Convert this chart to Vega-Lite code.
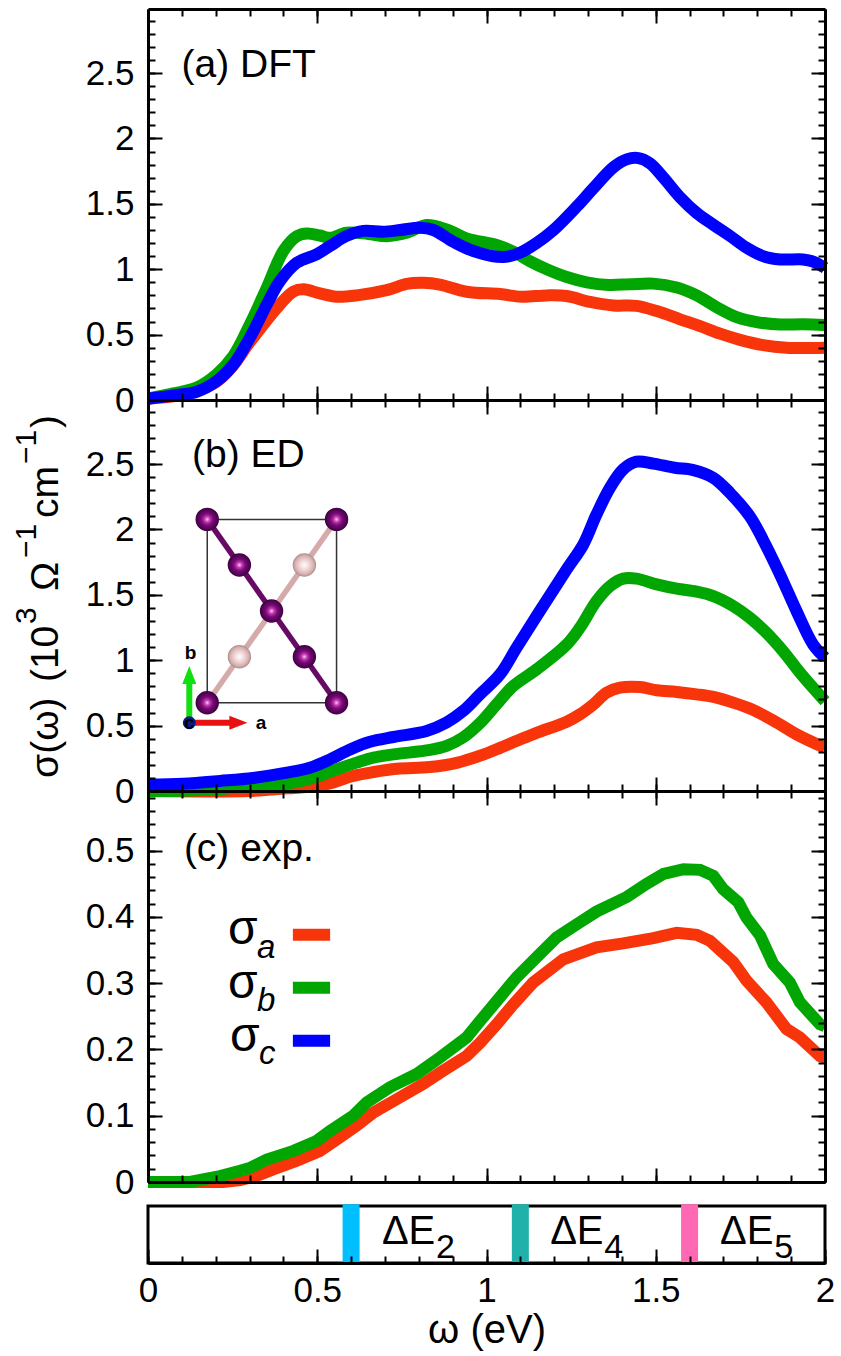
{
"$schema":"https://vega.github.io/schema/vega-lite/v6.json",
"padding":{"left":11,"top":8,"right":5,"bottom":2},
"bounds":"flush",
"spacing":0,
"resolve":{"scale":{"color":"independent"}},
"config":{"view":{"stroke":null},"font":"Liberation Sans","axis":{"grid":false,"domainColor":"black","domainWidth":3,"tickColor":"black","tickWidth":2,"labelFont":"Liberation Sans","labelFontSize":35,"labelColor":"black","labelOverlap":false,"labelFlush":false,"labelBound":false,"titleFont":"Liberation Sans","titleColor":"black","titleFontWeight":"normal"},"text":{"font":"Liberation Sans","color":"black"}},
"datasets":{
"axisrow":[{"w":0,"v":0}],
"dft":[
{"s":"a","w":0,"v":0.01},{"s":"a","w":0.1,"v":0.04},{"s":"a","w":0.2,"v":0.135},{"s":"a","w":0.25,"v":0.26},{"s":"a","w":0.3,"v":0.44},{"s":"a","w":0.386,"v":0.72},{"s":"a","w":0.43,"v":0.83},{"s":"a","w":0.46,"v":0.846},{"s":"a","w":0.508,"v":0.815},{"s":"a","w":0.557,"v":0.79},{"s":"a","w":0.617,"v":0.8},{"s":"a","w":0.705,"v":0.84},{"s":"a","w":0.764,"v":0.888},{"s":"a","w":0.813,"v":0.896},{"s":"a","w":0.862,"v":0.883},{"s":"a","w":0.941,"v":0.828},{"s":"a","w":1.04,"v":0.81},{"s":"a","w":1.104,"v":0.79},{"s":"a","w":1.178,"v":0.8},{"s":"a","w":1.237,"v":0.795},{"s":"a","w":1.306,"v":0.75},{"s":"a","w":1.375,"v":0.723},{"s":"a","w":1.443,"v":0.72},{"s":"a","w":1.503,"v":0.68},{"s":"a","w":1.572,"v":0.617},{"s":"a","w":1.631,"v":0.565},{"s":"a","w":1.69,"v":0.507},{"s":"a","w":1.749,"v":0.46},{"s":"a","w":1.817,"v":0.42},{"s":"a","w":1.886,"v":0.4},{"s":"a","w":2,"v":0.4},
{"s":"b","w":0,"v":0.01},{"s":"b","w":0.075,"v":0.05},{"s":"b","w":0.144,"v":0.095},{"s":"b","w":0.203,"v":0.197},{"s":"b","w":0.252,"v":0.337},{"s":"b","w":0.301,"v":0.578},{"s":"b","w":0.351,"v":0.858},{"s":"b","w":0.4,"v":1.14},{"s":"b","w":0.44,"v":1.253},{"s":"b","w":0.47,"v":1.274},{"s":"b","w":0.508,"v":1.258},{"s":"b","w":0.538,"v":1.24},{"s":"b","w":0.587,"v":1.279},{"s":"b","w":0.65,"v":1.27},{"s":"b","w":0.705,"v":1.253},{"s":"b","w":0.764,"v":1.279},{"s":"b","w":0.823,"v":1.338},{"s":"b","w":0.882,"v":1.305},{"s":"b","w":0.941,"v":1.236},{"s":"b","w":1.03,"v":1.185},{"s":"b","w":1.079,"v":1.135},{"s":"b","w":1.129,"v":1.06},{"s":"b","w":1.178,"v":1},{"s":"b","w":1.237,"v":0.94},{"s":"b","w":1.296,"v":0.9},{"s":"b","w":1.36,"v":0.88},{"s":"b","w":1.424,"v":0.885},{"s":"b","w":1.493,"v":0.89},{"s":"b","w":1.562,"v":0.86},{"s":"b","w":1.621,"v":0.8},{"s":"b","w":1.68,"v":0.71},{"s":"b","w":1.739,"v":0.634},{"s":"b","w":1.798,"v":0.596},{"s":"b","w":1.867,"v":0.577},{"s":"b","w":1.935,"v":0.58},{"s":"b","w":2,"v":0.573},
{"s":"c","w":0,"v":0.01},{"s":"c","w":0.075,"v":0.035},{"s":"c","w":0.144,"v":0.063},{"s":"c","w":0.203,"v":0.145},{"s":"c","w":0.252,"v":0.27},{"s":"c","w":0.301,"v":0.477},{"s":"c","w":0.351,"v":0.73},{"s":"c","w":0.39,"v":0.91},{"s":"c","w":0.44,"v":1.05},{"s":"c","w":0.498,"v":1.114},{"s":"c","w":0.538,"v":1.178},{"s":"c","w":0.587,"v":1.255},{"s":"c","w":0.636,"v":1.293},{"s":"c","w":0.695,"v":1.287},{"s":"c","w":0.745,"v":1.3},{"s":"c","w":0.804,"v":1.318},{"s":"c","w":0.843,"v":1.3},{"s":"c","w":0.902,"v":1.21},{"s":"c","w":0.961,"v":1.14},{"s":"c","w":1.05,"v":1.093},{"s":"c","w":1.099,"v":1.126},{"s":"c","w":1.148,"v":1.2},{"s":"c","w":1.198,"v":1.3},{"s":"c","w":1.267,"v":1.48},{"s":"c","w":1.316,"v":1.62},{"s":"c","w":1.375,"v":1.78},{"s":"c","w":1.414,"v":1.84},{"s":"c","w":1.449,"v":1.85},{"s":"c","w":1.483,"v":1.81},{"s":"c","w":1.523,"v":1.7},{"s":"c","w":1.572,"v":1.55},{"s":"c","w":1.621,"v":1.43},{"s":"c","w":1.67,"v":1.34},{"s":"c","w":1.719,"v":1.255},{"s":"c","w":1.768,"v":1.165},{"s":"c","w":1.817,"v":1.1},{"s":"c","w":1.867,"v":1.075},{"s":"c","w":1.935,"v":1.075},{"s":"c","w":1.965,"v":1.058},{"s":"c","w":2,"v":1.01}],
"ed":[
{"s":"a","w":0,"v":0},{"s":"a","w":0.3,"v":0},{"s":"a","w":0.41,"v":0.02},{"s":"a","w":0.518,"v":0.046},{"s":"a","w":0.606,"v":0.115},{"s":"a","w":0.666,"v":0.145},{"s":"a","w":0.735,"v":0.17},{"s":"a","w":0.833,"v":0.183},{"s":"a","w":0.912,"v":0.215},{"s":"a","w":0.981,"v":0.27},{"s":"a","w":1.04,"v":0.33},{"s":"a","w":1.099,"v":0.394},{"s":"a","w":1.148,"v":0.445},{"s":"a","w":1.237,"v":0.53},{"s":"a","w":1.276,"v":0.586},{"s":"a","w":1.316,"v":0.663},{"s":"a","w":1.355,"v":0.752},{"s":"a","w":1.394,"v":0.79},{"s":"a","w":1.453,"v":0.795},{"s":"a","w":1.503,"v":0.77},{"s":"a","w":1.562,"v":0.757},{"s":"a","w":1.621,"v":0.739},{"s":"a","w":1.67,"v":0.719},{"s":"a","w":1.729,"v":0.676},{"s":"a","w":1.778,"v":0.63},{"s":"a","w":1.847,"v":0.54},{"s":"a","w":1.916,"v":0.433},{"s":"a","w":2,"v":0.33},
{"s":"b","w":0,"v":0},{"s":"b","w":0.104,"v":0.002},{"s":"b","w":0.213,"v":0.015},{"s":"b","w":0.311,"v":0.036},{"s":"b","w":0.41,"v":0.056},{"s":"b","w":0.49,"v":0.102},{"s":"b","w":0.557,"v":0.166},{"s":"b","w":0.616,"v":0.217},{"s":"b","w":0.666,"v":0.255},{"s":"b","w":0.725,"v":0.28},{"s":"b","w":0.833,"v":0.314},{"s":"b","w":0.882,"v":0.345},{"s":"b","w":0.931,"v":0.41},{"s":"b","w":0.981,"v":0.52},{"s":"b","w":1.03,"v":0.663},{"s":"b","w":1.079,"v":0.803},{"s":"b","w":1.148,"v":0.93},{"s":"b","w":1.237,"v":1.12},{"s":"b","w":1.276,"v":1.249},{"s":"b","w":1.325,"v":1.453},{"s":"b","w":1.365,"v":1.567},{"s":"b","w":1.404,"v":1.624},{"s":"b","w":1.443,"v":1.624},{"s":"b","w":1.503,"v":1.58},{"s":"b","w":1.562,"v":1.547},{"s":"b","w":1.621,"v":1.524},{"s":"b","w":1.67,"v":1.49},{"s":"b","w":1.729,"v":1.414},{"s":"b","w":1.778,"v":1.325},{"s":"b","w":1.827,"v":1.21},{"s":"b","w":1.876,"v":1.07},{"s":"b","w":1.926,"v":0.905},{"s":"b","w":2,"v":0.687},
{"s":"c","w":0,"v":0.05},{"s":"c","w":0.104,"v":0.056},{"s":"c","w":0.213,"v":0.077},{"s":"c","w":0.311,"v":0.1},{"s":"c","w":0.41,"v":0.14},{"s":"c","w":0.478,"v":0.178},{"s":"c","w":0.538,"v":0.242},{"s":"c","w":0.597,"v":0.318},{"s":"c","w":0.656,"v":0.377},{"s":"c","w":0.725,"v":0.413},{"s":"c","w":0.823,"v":0.459},{"s":"c","w":0.882,"v":0.523},{"s":"c","w":0.931,"v":0.612},{"s":"c","w":0.981,"v":0.74},{"s":"c","w":1.04,"v":0.892},{"s":"c","w":1.089,"v":1.096},{"s":"c","w":1.148,"v":1.338},{"s":"c","w":1.237,"v":1.695},{"s":"c","w":1.286,"v":1.885},{"s":"c","w":1.325,"v":2.115},{"s":"c","w":1.365,"v":2.32},{"s":"c","w":1.404,"v":2.46},{"s":"c","w":1.443,"v":2.518},{"s":"c","w":1.493,"v":2.503},{"s":"c","w":1.556,"v":2.472},{"s":"c","w":1.611,"v":2.454},{"s":"c","w":1.67,"v":2.395},{"s":"c","w":1.719,"v":2.28},{"s":"c","w":1.778,"v":2.1},{"s":"c","w":1.817,"v":1.92},{"s":"c","w":1.867,"v":1.656},{"s":"c","w":1.916,"v":1.376},{"s":"c","w":1.965,"v":1.12},{"s":"c","w":2,"v":1.02}],
"expt":[
{"s":"a","w":0,"v":0},{"s":"a","w":0.222,"v":0},{"s":"a","w":0.272,"v":0.003},{"s":"a","w":0.32,"v":0.009},{"s":"a","w":0.37,"v":0.019},{"s":"a","w":0.44,"v":0.032},{"s":"a","w":0.508,"v":0.047},{"s":"a","w":0.566,"v":0.067},{"s":"a","w":0.616,"v":0.085},{"s":"a","w":0.666,"v":0.105},{"s":"a","w":0.725,"v":0.122},{"s":"a","w":0.813,"v":0.148},{"s":"a","w":0.863,"v":0.165},{"s":"a","w":0.941,"v":0.19},{"s":"a","w":0.981,"v":0.21},{"s":"a","w":1.03,"v":0.238},{"s":"a","w":1.079,"v":0.268},{"s":"a","w":1.138,"v":0.301},{"s":"a","w":1.227,"v":0.336},{"s":"a","w":1.325,"v":0.354},{"s":"a","w":1.404,"v":0.36},{"s":"a","w":1.493,"v":0.368},{"s":"a","w":1.562,"v":0.376},{"s":"a","w":1.621,"v":0.373},{"s":"a","w":1.66,"v":0.364},{"s":"a","w":1.729,"v":0.332},{"s":"a","w":1.768,"v":0.304},{"s":"a","w":1.827,"v":0.271},{"s":"a","w":1.886,"v":0.231},{"s":"a","w":1.926,"v":0.218},{"s":"a","w":1.985,"v":0.19},{"s":"a","w":2,"v":0.188},
{"s":"b","w":0,"v":0},{"s":"b","w":0.124,"v":0},{"s":"b","w":0.213,"v":0.009},{"s":"b","w":0.272,"v":0.017},{"s":"b","w":0.3,"v":0.021},{"s":"b","w":0.351,"v":0.034},{"s":"b","w":0.43,"v":0.047},{"s":"b","w":0.498,"v":0.062},{"s":"b","w":0.538,"v":0.077},{"s":"b","w":0.606,"v":0.1},{"s":"b","w":0.646,"v":0.12},{"s":"b","w":0.715,"v":0.143},{"s":"b","w":0.794,"v":0.163},{"s":"b","w":0.863,"v":0.188},{"s":"b","w":0.941,"v":0.218},{"s":"b","w":0.981,"v":0.243},{"s":"b","w":1.03,"v":0.273},{"s":"b","w":1.089,"v":0.309},{"s":"b","w":1.148,"v":0.339},{"s":"b","w":1.207,"v":0.369},{"s":"b","w":1.276,"v":0.392},{"s":"b","w":1.325,"v":0.408},{"s":"b","w":1.414,"v":0.43},{"s":"b","w":1.473,"v":0.45},{"s":"b","w":1.523,"v":0.465},{"s":"b","w":1.582,"v":0.472},{"s":"b","w":1.631,"v":0.471},{"s":"b","w":1.67,"v":0.462},{"s":"b","w":1.699,"v":0.442},{"s":"b","w":1.744,"v":0.422},{"s":"b","w":1.768,"v":0.399},{"s":"b","w":1.808,"v":0.372},{"s":"b","w":1.847,"v":0.329},{"s":"b","w":1.896,"v":0.301},{"s":"b","w":1.926,"v":0.271},{"s":"b","w":1.985,"v":0.238},{"s":"b","w":2,"v":0.235}]
},
"vconcat":[
{"width":677,"height":391,"resolve":{"axis":{"x":"independent","y":"independent"}},"layer":[
{"data":{"name":"axisrow"},"mark":{"type":"point","opacity":0},"encoding":{"x":{"field":"w","type":"quantitative","scale":{"domain":[0,2],"nice":false,"zero":false},"axis":{"orient":"bottom","values":[0,0.5,1,1.5,2],"tickSize":-14,"labels":false,"title":null,"zindex":1}},"y":{"field":"v","type":"quantitative","scale":{"domain":[0,2.99],"nice":false,"zero":false},"axis":{"orient":"left","values":[0,0.5,1,1.5,2,2.5],"tickSize":-14,"labelPadding":28,"format":"~g","title":null,"zindex":1}}}},
{"data":{"name":"axisrow"},"mark":{"type":"point","opacity":0},"encoding":{"x":{"field":"w","type":"quantitative","axis":{"orient":"bottom","values":[0,0.1,0.2,0.3,0.4,0.5,0.6,0.7,0.8,0.9,1,1.1,1.2,1.3,1.4,1.5,1.6,1.7,1.8,1.9,2],"tickSize":-7,"labels":false,"domain":false,"title":null,"zindex":1}},"y":{"field":"v","type":"quantitative","axis":{"orient":"left","values":[0,0.1,0.2,0.3,0.4,0.5,0.6,0.7,0.8,0.9,1,1.1,1.2,1.3,1.4,1.5,1.6,1.7,1.8,1.9,2,2.1,2.2,2.3,2.4,2.5,2.6,2.7,2.8,2.9],"tickSize":-7,"labels":false,"domain":false,"title":null,"zindex":1}}}},
{"data":{"name":"axisrow"},"mark":{"type":"point","opacity":0},"encoding":{"x":{"field":"w","type":"quantitative","axis":{"orient":"top","values":[0,0.5,1,1.5,2],"tickSize":-14,"labels":false,"title":null,"zindex":1}},"y":{"field":"v","type":"quantitative","axis":{"orient":"right","values":[0,0.5,1,1.5,2,2.5],"tickSize":-14,"labels":false,"title":null,"zindex":1}}}},
{"data":{"name":"axisrow"},"mark":{"type":"point","opacity":0},"encoding":{"x":{"field":"w","type":"quantitative","axis":{"orient":"top","values":[0,0.1,0.2,0.3,0.4,0.5,0.6,0.7,0.8,0.9,1,1.1,1.2,1.3,1.4,1.5,1.6,1.7,1.8,1.9,2],"tickSize":-7,"labels":false,"domain":false,"title":null,"zindex":1}},"y":{"field":"v","type":"quantitative","axis":{"orient":"right","values":[0,0.1,0.2,0.3,0.4,0.5,0.6,0.7,0.8,0.9,1,1.1,1.2,1.3,1.4,1.5,1.6,1.7,1.8,1.9,2,2.1,2.2,2.3,2.4,2.5,2.6,2.7,2.8,2.9],"tickSize":-7,"labels":false,"domain":false,"title":null,"zindex":1}}}},
{"data":{"name":"dft"},"mark":{"type":"line","strokeWidth":12,"interpolate":"catmull-rom","clip":false},"encoding":{"x":{"field":"w","type":"quantitative","axis":null},"y":{"field":"v","type":"quantitative","axis":null},"color":{"field":"s","type":"nominal","scale":{"domain":["a","b","c"],"range":["#f8340a","#02a602","#0000ff"]},"legend":null}}},
{"data":{"values":[{"w":0.099,"v":2.47,"t":"(a) DFT"}]},"mark":{"type":"text","fontSize":39,"align":"left","baseline":"alphabetic"},"encoding":{"x":{"field":"w","type":"quantitative","axis":null},"y":{"field":"v","type":"quantitative","axis":null},"text":{"field":"t"}}}
]},
{"width":677,"height":391,"resolve":{"axis":{"x":"independent","y":"independent"}},"layer":[
{"data":{"name":"axisrow"},"mark":{"type":"point","opacity":0},"encoding":{"x":{"field":"w","type":"quantitative","scale":{"domain":[0,2],"nice":false,"zero":false},"axis":{"orient":"bottom","values":[0,0.5,1,1.5,2],"tickSize":-14,"labels":false,"title":null,"zindex":1}},"y":{"field":"v","type":"quantitative","scale":{"domain":[0,2.99],"nice":false,"zero":false},"axis":{"orient":"left","values":[0,0.5,1,1.5,2,2.5],"tickSize":-14,"labelPadding":28,"format":"~g","title":null,"zindex":1}}}},
{"data":{"name":"axisrow"},"mark":{"type":"point","opacity":0},"encoding":{"x":{"field":"w","type":"quantitative","axis":{"orient":"bottom","values":[0,0.1,0.2,0.3,0.4,0.5,0.6,0.7,0.8,0.9,1,1.1,1.2,1.3,1.4,1.5,1.6,1.7,1.8,1.9,2],"tickSize":-7,"labels":false,"domain":false,"title":null,"zindex":1}},"y":{"field":"v","type":"quantitative","axis":{"orient":"left","values":[0,0.1,0.2,0.3,0.4,0.5,0.6,0.7,0.8,0.9,1,1.1,1.2,1.3,1.4,1.5,1.6,1.7,1.8,1.9,2,2.1,2.2,2.3,2.4,2.5,2.6,2.7,2.8,2.9],"tickSize":-7,"labels":false,"domain":false,"title":null,"zindex":1}}}},
{"data":{"name":"axisrow"},"mark":{"type":"point","opacity":0},"encoding":{"x":{"field":"w","type":"quantitative","axis":{"orient":"top","values":[0,0.5,1,1.5,2],"tickSize":-14,"labels":false,"title":null,"zindex":1}},"y":{"field":"v","type":"quantitative","axis":{"orient":"right","values":[0,0.5,1,1.5,2,2.5],"tickSize":-14,"labels":false,"title":null,"zindex":1}}}},
{"data":{"name":"axisrow"},"mark":{"type":"point","opacity":0},"encoding":{"x":{"field":"w","type":"quantitative","axis":{"orient":"top","values":[0,0.1,0.2,0.3,0.4,0.5,0.6,0.7,0.8,0.9,1,1.1,1.2,1.3,1.4,1.5,1.6,1.7,1.8,1.9,2],"tickSize":-7,"labels":false,"domain":false,"title":null,"zindex":1}},"y":{"field":"v","type":"quantitative","axis":{"orient":"right","values":[0,0.1,0.2,0.3,0.4,0.5,0.6,0.7,0.8,0.9,1,1.1,1.2,1.3,1.4,1.5,1.6,1.7,1.8,1.9,2,2.1,2.2,2.3,2.4,2.5,2.6,2.7,2.8,2.9],"tickSize":-7,"labels":false,"domain":false,"title":null,"zindex":1}}}},
{"data":{"name":"ed"},"mark":{"type":"line","strokeWidth":12,"interpolate":"catmull-rom","clip":false},"encoding":{"x":{"field":"w","type":"quantitative","axis":null},"y":{"field":"v","type":"quantitative","axis":null},"color":{"field":"s","type":"nominal","scale":{"domain":["a","b","c"],"range":["#f8340a","#02a602","#0000ff"]},"legend":null}}},
{"data":{"values":[{"w":0.13,"v":2.477,"t":"(b) ED"}]},"mark":{"type":"text","fontSize":39,"align":"left","baseline":"alphabetic"},"encoding":{"x":{"field":"w","type":"quantitative","axis":null},"y":{"field":"v","type":"quantitative","axis":null},"text":{"field":"t"}}},
{"data":{"values":[{"w":0.175,"v":2.077,"w2":0.557,"v2":2.077},{"w":0.175,"v":0.675,"w2":0.557,"v2":0.675},{"w":0.175,"v":0.675,"w2":0.175,"v2":2.077},{"w":0.557,"v":0.675,"w2":0.557,"v2":2.077}]},"mark":{"type":"rule","color":"#333333","strokeWidth":1.5},"encoding":{"x":{"field":"w","type":"quantitative","axis":null},"y":{"field":"v","type":"quantitative","axis":null},"x2":{"field":"w2"},"y2":{"field":"v2"}}},
{"data":{"values":[{"w":0.557,"v":2.077,"w2":0.175,"v2":0.675}]},"mark":{"type":"rule","color":"#d4aaaa","strokeWidth":5.5},"encoding":{"x":{"field":"w","type":"quantitative","axis":null},"y":{"field":"v","type":"quantitative","axis":null},"x2":{"field":"w2"},"y2":{"field":"v2"}}},
{"data":{"values":[{"w":0.175,"v":2.077,"w2":0.557,"v2":0.675}]},"mark":{"type":"rule","color":"#660a66","strokeWidth":5.5},"encoding":{"x":{"field":"w","type":"quantitative","axis":null},"y":{"field":"v","type":"quantitative","axis":null},"x2":{"field":"w2"},"y2":{"field":"v2"}}},
{"data":{"values":[{"w":0.175,"v":2.077},{"w":0.557,"v":2.077},{"w":0.27,"v":1.728},{"w":0.365,"v":1.376},{"w":0.462,"v":1.027},{"w":0.175,"v":0.675},{"w":0.557,"v":0.675}]},"mark":{"type":"point","shape":"circle","filled":true,"size":548,"opacity":1,"fill":{"gradient":"radial","x1":0.5,"y1":0.5,"r1":0,"x2":0.5,"y2":0.5,"r2":0.5,"stops":[{"offset":0,"color":"#ffd8ff"},{"offset":0.22,"color":"#c83cb4"},{"offset":0.5,"color":"#7a0a78"},{"offset":1,"color":"#3c0040"}]}},"encoding":{"x":{"field":"w","type":"quantitative","axis":null},"y":{"field":"v","type":"quantitative","axis":null}}},
{"data":{"values":[{"w":0.462,"v":1.728},{"w":0.27,"v":1.027}]},"mark":{"type":"point","shape":"circle","filled":true,"size":548,"opacity":1,"fill":{"gradient":"radial","x1":0.5,"y1":0.5,"r1":0,"x2":0.5,"y2":0.5,"r2":0.5,"stops":[{"offset":0,"color":"#ffffff"},{"offset":0.4,"color":"#f2d8d8"},{"offset":0.8,"color":"#d8b0b0"},{"offset":1,"color":"#a88a8a"}]}},"encoding":{"x":{"field":"w","type":"quantitative","axis":null},"y":{"field":"v","type":"quantitative","axis":null}}},
{"data":{"values":[{"w":0.122,"v":0.522,"w2":0.122,"v2":0.88}]},"mark":{"type":"rule","color":"#10e010","strokeWidth":6},"encoding":{"x":{"field":"w","type":"quantitative","axis":null},"y":{"field":"v","type":"quantitative","axis":null},"x2":{"field":"w2"},"y2":{"field":"v2"}}},
{"data":{"values":[{"w":0.122,"v":0.887}]},"mark":{"type":"point","shape":"M0,-0.9L-0.7,0.9L0.7,0.9Z","filled":true,"size":400,"opacity":1,"color":"#10e010"},"encoding":{"x":{"field":"w","type":"quantitative","axis":null},"y":{"field":"v","type":"quantitative","axis":null}}},
{"data":{"values":[{"w":0.122,"v":0.522,"w2":0.267,"v2":0.522}]},"mark":{"type":"rule","color":"#e81010","strokeWidth":6},"encoding":{"x":{"field":"w","type":"quantitative","axis":null},"y":{"field":"v","type":"quantitative","axis":null},"x2":{"field":"w2"},"y2":{"field":"v2"}}},
{"data":{"values":[{"w":0.267,"v":0.522}]},"mark":{"type":"point","shape":"M0.9,0L-0.9,-0.7L-0.9,0.7Z","filled":true,"size":400,"opacity":1,"color":"#e81010"},"encoding":{"x":{"field":"w","type":"quantitative","axis":null},"y":{"field":"v","type":"quantitative","axis":null}}},
{"data":{"values":[{"w":0.122,"v":0.522}]},"mark":{"type":"point","shape":"circle","filled":true,"size":170,"opacity":1,"color":"#0a1a8c"},"encoding":{"x":{"field":"w","type":"quantitative","axis":null},"y":{"field":"v","type":"quantitative","axis":null}}},
{"data":{"values":[{"w":0.122,"v":0.522,"t":"c"},{"w":0.126,"v":1.053,"t":"b"},{"w":0.334,"v":0.522,"t":"a"}]},"mark":{"type":"text","fontSize":19,"fontWeight":"bold","font":"Liberation Sans","align":"center","baseline":"middle"},"encoding":{"x":{"field":"w","type":"quantitative","axis":null},"y":{"field":"v","type":"quantitative","axis":null},"text":{"field":"t"}}},
{"data":{"values":[{"w":-0.267,"v":0.1,"t":"σ(ω)"},{"w":-0.267,"v":0.833,"t":"(10"},{"w":-0.267,"v":1.529,"t":"Ω"},{"w":-0.267,"v":2.087,"t":"cm"},{"w":-0.267,"v":2.775,"t":")"}]},"mark":{"type":"text","fontSize":39,"angle":270,"align":"left","baseline":"alphabetic"},"encoding":{"x":{"field":"w","type":"quantitative","axis":null},"y":{"field":"v","type":"quantitative","axis":null},"text":{"field":"t"}}},
{"data":{"values":[{"w":-0.331,"v":1.277,"t":"3"},{"w":-0.331,"v":1.781,"t":"−1"},{"w":-0.331,"v":2.5,"t":"−1"}]},"mark":{"type":"text","fontSize":30,"angle":270,"align":"left","baseline":"alphabetic"},"encoding":{"x":{"field":"w","type":"quantitative","axis":null},"y":{"field":"v","type":"quantitative","axis":null},"text":{"field":"t"}}}
]},
{"width":677,"height":391,"resolve":{"axis":{"x":"independent","y":"independent"}},"layer":[
{"data":{"name":"axisrow"},"mark":{"type":"point","opacity":0},"encoding":{"x":{"field":"w","type":"quantitative","scale":{"domain":[0,2],"nice":false,"zero":false},"axis":{"orient":"bottom","values":[0,0.5,1,1.5,2],"tickSize":-14,"labels":false,"title":null,"zindex":1}},"y":{"field":"v","type":"quantitative","scale":{"domain":[0,0.59],"nice":false,"zero":false},"axis":{"orient":"left","values":[0,0.1,0.2,0.3,0.4,0.5],"tickSize":-14,"labelPadding":28,"format":"~g","title":null,"zindex":1}}}},
{"data":{"name":"axisrow"},"mark":{"type":"point","opacity":0},"encoding":{"x":{"field":"w","type":"quantitative","axis":{"orient":"bottom","values":[0,0.1,0.2,0.3,0.4,0.5,0.6,0.7,0.8,0.9,1,1.1,1.2,1.3,1.4,1.5,1.6,1.7,1.8,1.9,2],"tickSize":-7,"labels":false,"domain":false,"title":null,"zindex":1}},"y":{"field":"v","type":"quantitative","axis":{"orient":"left","values":[0,0.02,0.04,0.06,0.08,0.1,0.12,0.14,0.16,0.18,0.2,0.22,0.24,0.26,0.28,0.3,0.32,0.34,0.36,0.38,0.4,0.42,0.44,0.46,0.48,0.5,0.52,0.54,0.56,0.58],"tickSize":-7,"labels":false,"domain":false,"title":null,"zindex":1}}}},
{"data":{"name":"axisrow"},"mark":{"type":"point","opacity":0},"encoding":{"x":{"field":"w","type":"quantitative","axis":{"orient":"top","values":[0,0.5,1,1.5,2],"tickSize":-14,"labels":false,"title":null,"zindex":1}},"y":{"field":"v","type":"quantitative","axis":{"orient":"right","values":[0,0.1,0.2,0.3,0.4,0.5],"tickSize":-14,"labels":false,"title":null,"zindex":1}}}},
{"data":{"name":"axisrow"},"mark":{"type":"point","opacity":0},"encoding":{"x":{"field":"w","type":"quantitative","axis":{"orient":"top","values":[0,0.1,0.2,0.3,0.4,0.5,0.6,0.7,0.8,0.9,1,1.1,1.2,1.3,1.4,1.5,1.6,1.7,1.8,1.9,2],"tickSize":-7,"labels":false,"domain":false,"title":null,"zindex":1}},"y":{"field":"v","type":"quantitative","axis":{"orient":"right","values":[0,0.02,0.04,0.06,0.08,0.1,0.12,0.14,0.16,0.18,0.2,0.22,0.24,0.26,0.28,0.3,0.32,0.34,0.36,0.38,0.4,0.42,0.44,0.46,0.48,0.5,0.52,0.54,0.56,0.58],"tickSize":-7,"labels":false,"domain":false,"title":null,"zindex":1}}}},
{"data":{"name":"expt"},"mark":{"type":"line","strokeWidth":12,"interpolate":"linear","clip":false},"encoding":{"x":{"field":"w","type":"quantitative","axis":null},"y":{"field":"v","type":"quantitative","axis":null},"color":{"field":"s","type":"nominal","scale":{"domain":["a","b","c"],"range":["#f8340a","#02a602","#0000ff"]},"legend":null}}},
{"data":{"values":[{"w":0.106,"v":0.485,"t":"(c) exp."}]},"mark":{"type":"text","fontSize":39,"align":"left","baseline":"alphabetic"},"encoding":{"x":{"field":"w","type":"quantitative","axis":null},"y":{"field":"v","type":"quantitative","axis":null},"text":{"field":"t"}}},
{"data":{"values":[{"w":0.428,"w2":0.538,"v":0.373,"s":"a"},{"w":0.428,"w2":0.538,"v":0.293,"s":"b"},{"w":0.428,"w2":0.538,"v":0.213,"s":"c"}]},"mark":{"type":"rule","strokeWidth":12},"encoding":{"x":{"field":"w","type":"quantitative","axis":null},"x2":{"field":"w2"},"y":{"field":"v","type":"quantitative","axis":null},"color":{"field":"s","type":"nominal","scale":{"domain":["a","b","c"],"range":["#f8340a","#02a602","#0000ff"]},"legend":null}}},
{"data":{"values":[{"w":0.236,"v":0.3595,"t":"σ"},{"w":0.236,"v":0.278,"t":"σ"},{"w":0.242,"v":0.198,"t":"σ"}]},"mark":{"type":"text","fontSize":48,"align":"left","baseline":"alphabetic"},"encoding":{"x":{"field":"w","type":"quantitative","axis":null},"y":{"field":"v","type":"quantitative","axis":null},"text":{"field":"t"}}},
{"data":{"values":[{"w":0.322,"v":0.338,"t":"a"},{"w":0.322,"v":0.258,"t":"b"},{"w":0.328,"v":0.178,"t":"c"}]},"mark":{"type":"text","fontSize":33,"fontStyle":"italic","align":"left","baseline":"alphabetic"},"encoding":{"x":{"field":"w","type":"quantitative","axis":null},"y":{"field":"v","type":"quantitative","axis":null},"text":{"field":"t"}}}
]},
{"width":677,"height":81,"resolve":{"axis":{"x":"independent"}},"layer":[
{"data":{"name":"axisrow"},"mark":{"type":"point","opacity":0},"encoding":{"x":{"field":"w","type":"quantitative","scale":{"domain":[0,2],"nice":false,"zero":false},"axis":{"orient":"bottom","values":[0,0.5,1,1.5,2],"tickSize":-14,"labelPadding":24,"format":"~g","title":"ω (eV)","titleFontSize":40,"titlePadding":2,"zindex":1}},"y":{"field":"v","type":"quantitative","scale":{"domain":[0,1.4211],"nice":false,"zero":false},"axis":null}}},
{"data":{"name":"axisrow"},"mark":{"type":"point","opacity":0},"encoding":{"x":{"field":"w","type":"quantitative","axis":{"orient":"bottom","values":[0,0.1,0.2,0.3,0.4,0.5,0.6,0.7,0.8,0.9,1,1.1,1.2,1.3,1.4,1.5,1.6,1.7,1.8,1.9,2],"tickSize":-7,"labels":false,"domain":false,"title":null,"zindex":1}},"y":{"field":"v","type":"quantitative","axis":null}}},
{"data":{"values":[{"w":0,"w2":2,"v":0,"v2":1}]},"mark":{"type":"rect","fillOpacity":0,"stroke":"black","strokeWidth":3},"encoding":{"x":{"field":"w","type":"quantitative","axis":null},"x2":{"field":"w2"},"y":{"field":"v","type":"quantitative","axis":null},"y2":{"field":"v2"}}},
{"data":{"values":[{"w":0.6,"v":0,"v2":1.03,"c":"E2"},{"w":1.1,"v":0,"v2":1.03,"c":"E4"},{"w":1.6,"v":0,"v2":1.03,"c":"E5"}]},"mark":{"type":"rule","strokeWidth":17,"clip":false},"encoding":{"x":{"field":"w","type":"quantitative","axis":null},"y":{"field":"v","type":"quantitative","axis":null},"y2":{"field":"v2"},"color":{"field":"c","type":"nominal","scale":{"domain":["E2","E4","E5"],"range":["#00bfff","#20b2aa","#ff69b4"]},"legend":null}}},
{"data":{"values":[{"w":0.691,"v":0.333,"t":"ΔE"},{"w":1.188,"v":0.333,"t":"ΔE"},{"w":1.69,"v":0.333,"t":"ΔE"}]},"mark":{"type":"text","fontSize":40,"align":"left","baseline":"alphabetic"},"encoding":{"x":{"field":"w","type":"quantitative","axis":null},"y":{"field":"v","type":"quantitative","axis":null},"text":{"field":"t"}}},
{"data":{"values":[{"w":0.851,"v":0.088,"t":"2"},{"w":1.348,"v":0.088,"t":"4"},{"w":1.85,"v":0.088,"t":"5"}]},"mark":{"type":"text","fontSize":34,"align":"left","baseline":"alphabetic"},"encoding":{"x":{"field":"w","type":"quantitative","axis":null},"y":{"field":"v","type":"quantitative","axis":null},"text":{"field":"t"}}}
]}
]
}
